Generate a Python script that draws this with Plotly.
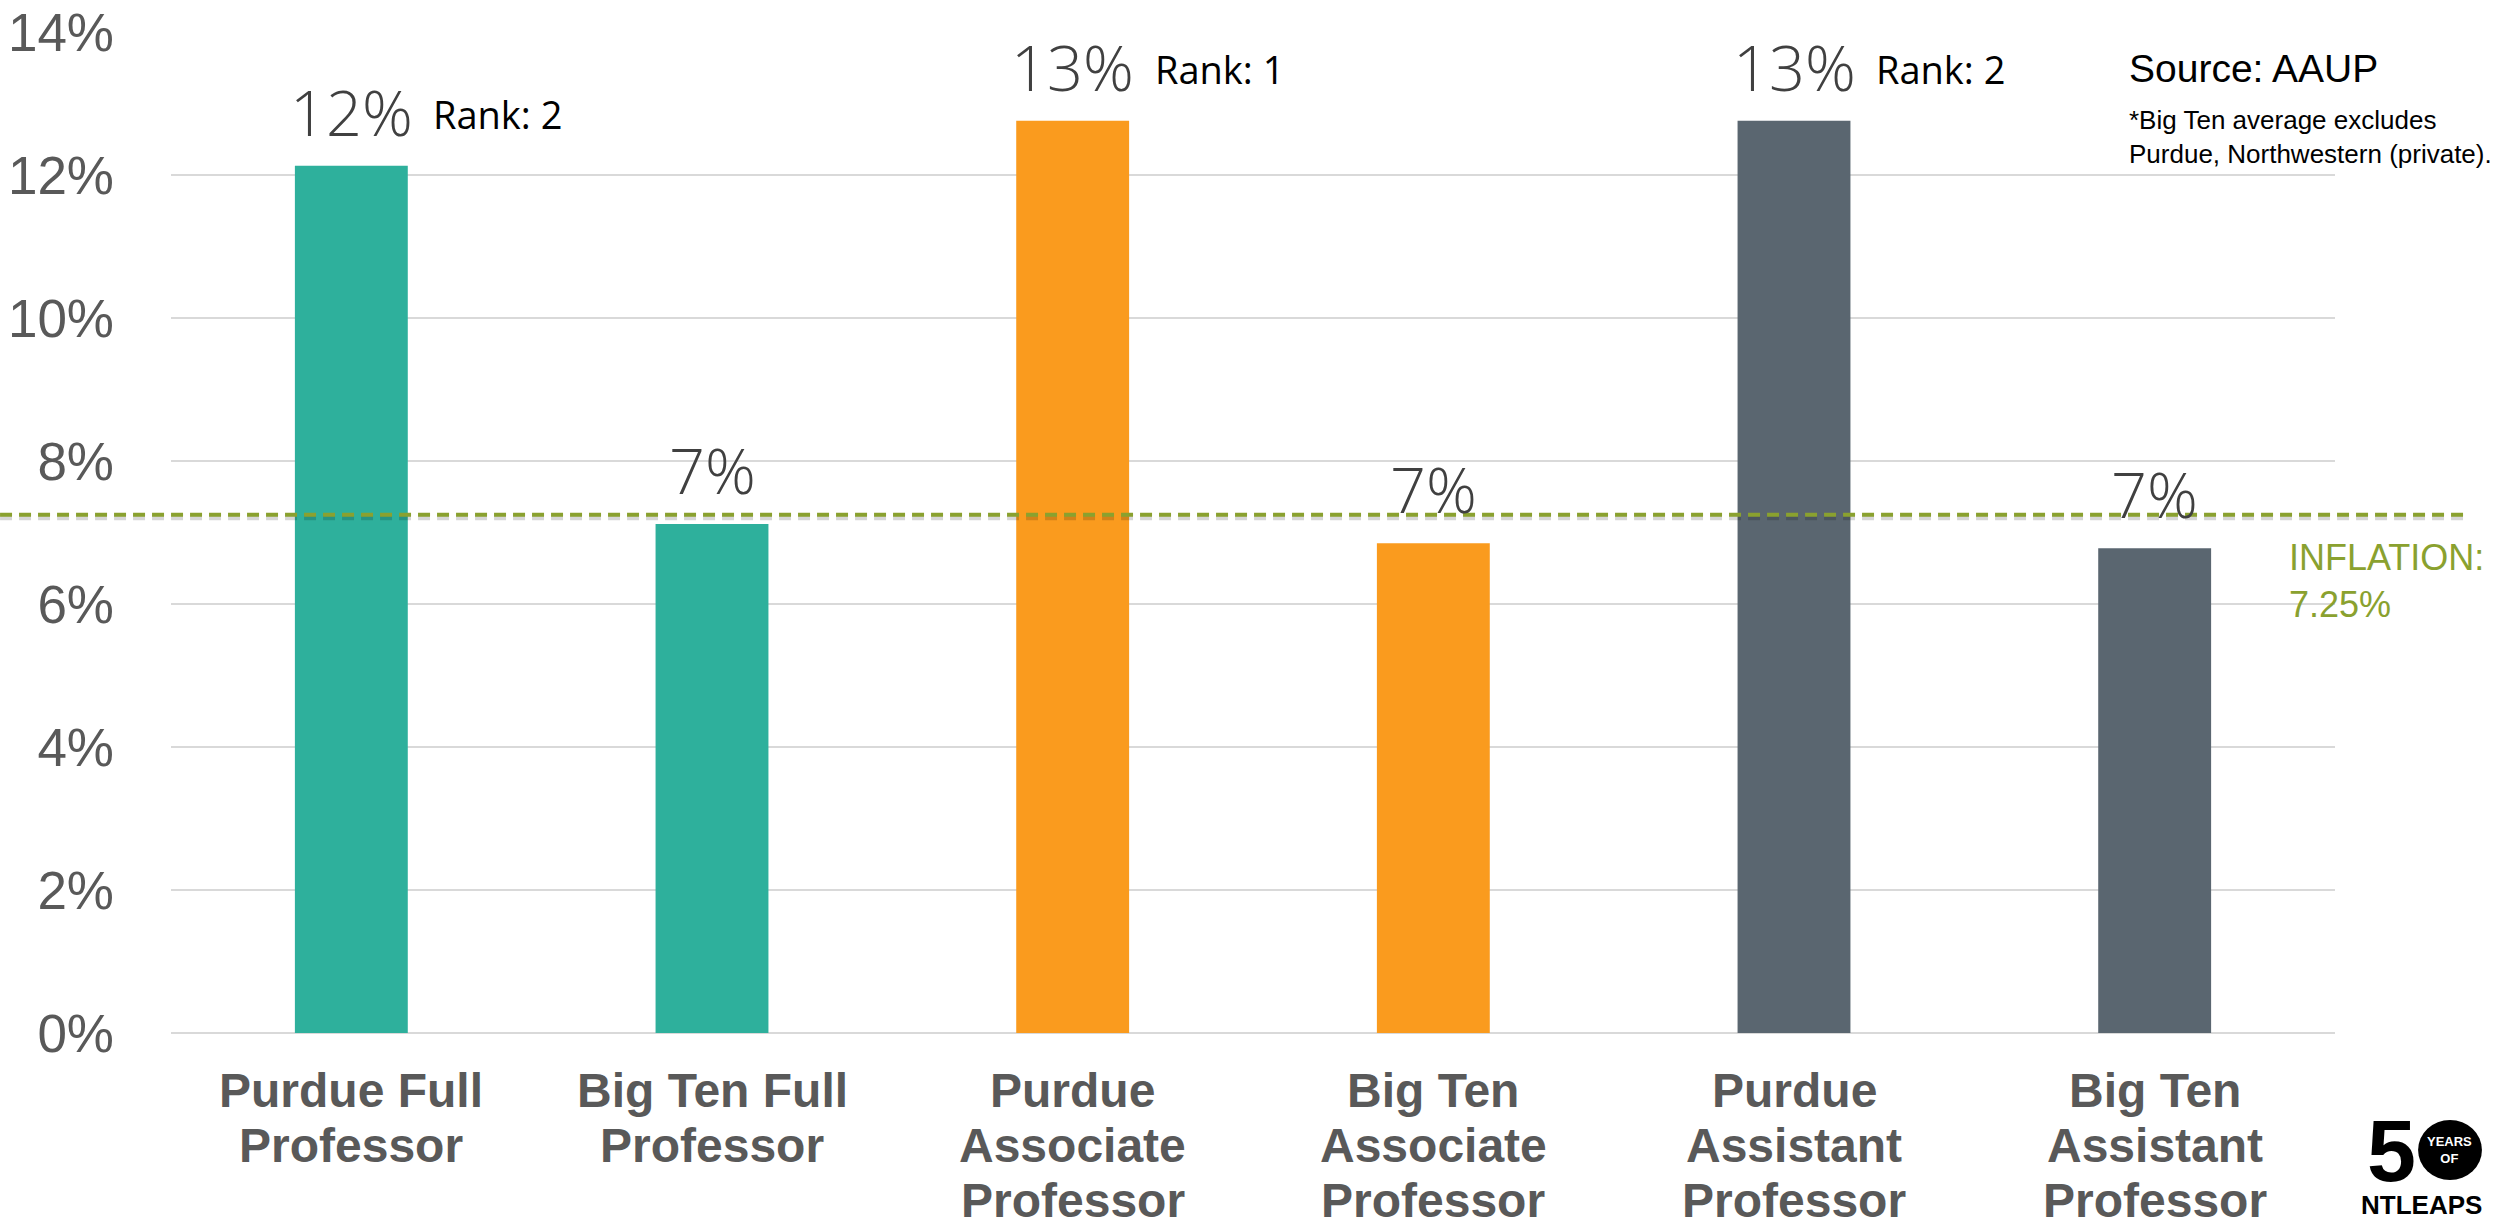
import plotly.graph_objects as go

categories = ["Purdue Full Professor", "Big Ten Full Professor", "Purdue Associate Professor",
              "Big Ten Associate Professor", "Purdue Assistant Professor", "Big Ten Assistant Professor"]
tick_lines = [["Purdue Full", "Professor"], ["Big Ten Full", "Professor"],
              ["Purdue", "Associate", "Professor"], ["Big Ten", "Associate", "Professor"],
              ["Purdue", "Assistant", "Professor"], ["Big Ten", "Assistant", "Professor"]]
values = [12.13, 7.12, 12.76, 6.85, 12.76, 6.78]
ranks = ["Rank: 2", None, "Rank: 1", None, "Rank: 2", None]
bar_colors = ["#2EB09C", "#2EB09C", "#FA9B1E", "#FA9B1E", "#5A6670", "#5A6670"]
inflation = 7.25
y_ticks = [0, 2, 4, 6, 8, 10, 12, 14]
y_ticktext = [f"{t}%" for t in y_ticks]

NARROW = "Liberation Sans, Arial, sans-serif"

fig = go.Figure()
fig.add_trace(go.Bar(x=categories, y=values, marker=dict(color=bar_colors, line=dict(width=0)),
                     width=0.313, hoverinfo="skip"))

annotations = []
# value labels
for c, v in zip(categories, values):
    annotations.append(dict(x=c, y=v, xref="x", yref="y", text=f"{round(v)}%", showarrow=False,
                            yanchor="bottom", yshift=10,
                            font=dict(family="Open Sans, sans-serif", size=63, color="#404040", weight=300)))
# rank labels
for c, v, r in zip(categories, values, ranks):
    if r:
        annotations.append(dict(x=c, y=v, xref="x", yref="y", text=r, showarrow=False,
                                xanchor="left", yanchor="bottom", xshift=80, yshift=24,
                                font=dict(family="Open Sans, sans-serif", size=38, color="#000000")))
# x category labels
for c, lines in zip(categories, tick_lines):
    for j, line in enumerate(lines):
        annotations.append(dict(x=c, y=0, xref="x", yref="y", text=line, showarrow=False,
                                yanchor="top", yshift=-(29 + 55 * j),
                                font=dict(family="Liberation Sans, Arial, sans-serif", size=48,
                                          color="#595959", weight="bold")))
# inflation label
annotations.append(dict(x=0.978, y=inflation, xref="paper", yref="y", xanchor="left", yanchor="top",
                        yshift=-20, text=f"INFLATION:<br>{inflation}%", showarrow=False, align="left",
                        font=dict(family=NARROW, size=36, color="#8AA12F")))
# source
annotations.append(dict(x=0.904, y=0.964, xref="paper", yref="paper", xanchor="left", yanchor="middle",
                        text="Source: AAUP", showarrow=False,
                        font=dict(family=NARROW, size=39, color="#000000")))
annotations.append(dict(x=0.904, y=0.912, xref="paper", yref="paper", xanchor="left", yanchor="middle",
                        text="*Big Ten average excludes", showarrow=False,
                        font=dict(family=NARROW, size=26, color="#000000")))
annotations.append(dict(x=0.904, y=0.878, xref="paper", yref="paper", xanchor="left", yanchor="middle",
                        text="Purdue, Northwestern (private).", showarrow=False,
                        font=dict(family=NARROW, size=26, color="#000000")))
# logo
annotations.append(dict(x=1.0262, y=-0.117, xref="paper", yref="paper", xanchor="center", yanchor="middle",
                        text="<b>5</b>", showarrow=False,
                        font=dict(family="Liberation Sans, Arial, sans-serif", size=88, color="#000000")))
annotations.append(dict(x=1.0531, y=-0.117, xref="paper", yref="paper", xanchor="center", yanchor="middle",
                        text="<b>YEARS<br>OF</b>", showarrow=False,
                        font=dict(family="Liberation Sans, Arial, sans-serif", size=13, color="#FFFFFF")))
annotations.append(dict(x=1.0400, y=-0.172, xref="paper", yref="paper", xanchor="center", yanchor="middle",
                        text="<b>NTLEAPS</b>", showarrow=False,
                        font=dict(family="Liberation Sans, Arial, sans-serif", size=26, color="#000000")))

shapes = [
    # shadow of inflation line
    dict(type="line", xref="paper", yref="y", x0=-0.079, x1=1.061, y0=inflation - 0.045, y1=inflation - 0.045,
         line=dict(color="rgba(0,0,0,0.16)", width=5, dash="12px,7px"), layer="above"),
    dict(type="line", xref="paper", yref="y", x0=-0.079, x1=1.061, y0=inflation, y1=inflation,
         line=dict(color="#8AA12F", width=4, dash="12px,7px"), layer="above"),
    dict(type="circle", xref="paper", yref="paper", x0=1.0384, x1=1.0679, y0=-0.0869, y1=-0.1469,
         fillcolor="#000000", line=dict(width=0), layer="above"),
]

fig.update_layout(
    width=2499, height=1221,
    margin=dict(l=171, r=164, t=32, b=188, autoexpand=False),
    paper_bgcolor="white", plot_bgcolor="white",
    showlegend=False,
    annotations=annotations,
    shapes=shapes,
    xaxis=dict(showticklabels=False, showgrid=False, showline=False, ticks="", range=[-0.5, 5.5],
               automargin=False),
    yaxis=dict(range=[0, 14.0001], tickvals=y_ticks, ticktext=y_ticktext, showgrid=True,
               gridcolor="#D9D9D9", gridwidth=2, zeroline=True, zerolinecolor="#D9D9D9", zerolinewidth=2,
               showline=False, ticks="", ticklabelstandoff=56, automargin=False,
               tickfont=dict(family=NARROW, size=53, color="#595959")),
)

fig.write_html("out.html", config={"displayModeBar": False},
               post_script="document.body.style.margin='0';document.body.style.overflow='hidden';")
